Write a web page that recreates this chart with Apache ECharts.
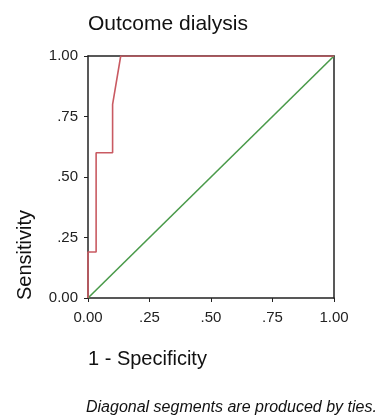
<!DOCTYPE html>
<html><head><meta charset="utf-8">
<script src="https://cdn.jsdelivr.net/npm/echarts@6/dist/echarts.min.js"></script>
<style>html,body{margin:0;padding:0;background:#fff}#c{width:380px;height:418px}</style>
</head><body><div id="c"></div>
<script>
var title = 'Outcome dialysis';
var xName = '1 - Specificity';
var yName = 'Sensitivity';
var footnote = 'Diagonal segments are produced by ties.';
var tickLabels = {0: '0.00', 0.25: '.25', 0.5: '.50', 0.75: '.75', 1: '1.00'};
var rocFpr = [0, 0, 0.033, 0.033, 0.1, 0.1, 0.133, 1];
var rocTpr = [0, 0.19, 0.19, 0.6, 0.6, 0.8, 1, 1];
var refFpr = [0, 1];
var refTpr = [0, 1];

var chart = echarts.init(document.getElementById('c'), null, {renderer: 'canvas'});
function fmt(v){ return tickLabels[v] !== undefined ? tickLabels[v] : ''; }
var font = 'Liberation Sans, Arial, sans-serif';
function axisBase(pos, showTicks, margin){
  return {
    type: 'value', min: 0, max: 1, interval: 0.25, position: pos,
    axisLine: {show: true, onZero: false, lineStyle: {color: '#222', width: 1.5}},
    splitLine: {show: false},
    axisTick: {show: showTicks, length: 4, lineStyle: {color: '#222'}},
    axisLabel: {show: showTicks, formatter: fmt, color: '#222', fontSize: 15, fontFamily: font, margin: margin}
  };
}
chart.setOption({
  animation: false,
  backgroundColor: '#fff',
  grid: {left: 88, right: 46, top: 56, bottom: 120},
  xAxis: [axisBase('bottom', true, 12), axisBase('top', false, 0)],
  yAxis: [axisBase('left', true, 10), axisBase('right', false, 0)],
  series: [
    {type: 'line', data: refFpr.map(function(x,i){return [x, refTpr[i]];}),
     symbol: 'none', lineStyle: {color: '#4a9a4a', width: 1.6}, z: 2},
    {type: 'line', data: rocFpr.map(function(x,i){return [x, rocTpr[i]];}),
     symbol: 'none', lineStyle: {color: '#c95a62', width: 1.6}, z: 3}
  ],
  graphic: [
    {type: 'text', x: 88, y: 24, style: {text: title, font: '21px ' + font, fill: '#111', textVerticalAlign: 'middle'}},
    {type: 'text', x: 88, y: 359, style: {text: xName, font: '20px ' + font, fill: '#111', textVerticalAlign: 'middle'}},
    {type: 'text', x: 86, y: 408, style: {text: footnote, font: 'italic 16px ' + font, fill: '#111', textVerticalAlign: 'middle'}},
    {type: 'text', x: 25, y: 300, rotation: Math.PI/2, style: {text: yName, font: '20px ' + font, fill: '#111', textAlign: 'left', textVerticalAlign: 'middle'}}
  ]
});
</script></body></html>
